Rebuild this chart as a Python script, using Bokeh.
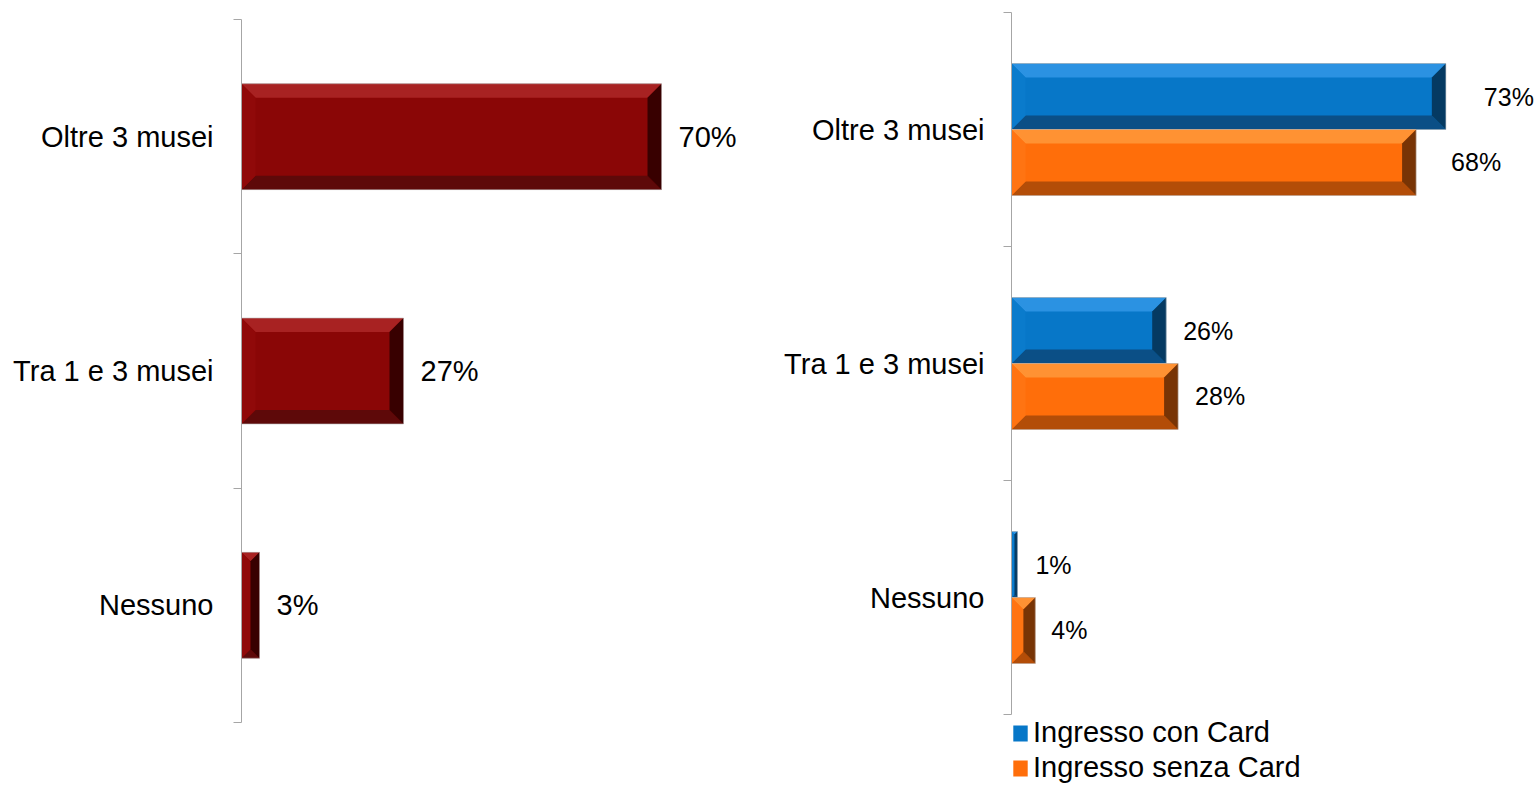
import numpy as np
from bokeh.plotting import figure
from bokeh.layouts import row
from bokeh.models import FixedTicker, Legend, LegendItem, ColumnDataSource
from bokeh.core.properties import value
from bokeh.embed import file_html
from bokeh.resources import INLINE

# ---------------- data ----------------
categories = ["Oltre 3 musei", "Tra 1 e 3 musei", "Nessuno"]
totale = [70, 27, 3]
con_card = [73, 26, 1]
senza_card = [68, 28, 4]
series_names = ["Ingresso con Card", "Ingresso senza Card"]

# ---------------- style ----------------
FONT = "Liberation Sans"
AXIS_GRAY = "#a6a6a6"
RED = dict(base="#8a0606", top="#a82222", bottom="#5e0909", left="#900909", right="#380000")
BLUE = dict(base="#0777c8", top="#2b92e2", bottom="#0b4f86", left="#0a7bcc", right="#053a62")
ORANGE = dict(base="#ff6e0a", top="#ff9233", bottom="#b34d08", left="#ff7412", right="#783405")
BEVEL_PX = 14
left_label_gap = [17, 17, 17]
con_label_gap = [38, 17, 18]
senza_label_gap = [35, 17, 16]

n = len(categories)
y_centers = np.array([n - i - 0.5 for i in range(n)])
labels_map = {float(y): c for y, c in zip(y_centers, categories)}

FIG_H = 785
FRAME_TOP = 12          # both frames share the same vertical extent
FRAME_H = FIG_H - FRAME_TOP


def bevel_bars(p, vals, yc, h, px_x, px_y, pal):
    vals = np.asarray(vals, float)
    x0 = np.zeros_like(vals)
    x1 = vals
    y0 = yc - h / 2
    y1 = yc + h / 2
    b = np.minimum(BEVEL_PX, np.minimum(vals * px_x / 2, h * px_y / 2))
    bx = b / px_x
    by = b / px_y
    main = p.quad(left=x0, right=x1, bottom=y0, top=y1,
                  fill_color=pal["base"], line_color=None)
    polys = {
        "top": [[[a, c, c - dx, a + dx], [t, t, t - dy, t - dy]]
                for a, c, t, dx, dy in zip(x0, x1, y1, bx, by)],
        "bottom": [[[a, c, c - dx, a + dx], [bb, bb, bb + dy, bb + dy]]
                   for a, c, bb, dx, dy in zip(x0, x1, y0, bx, by)],
        "left": [[[a, a, a + dx, a + dx], [bb, t, t - dy, bb + dy]]
                 for a, bb, t, dx, dy in zip(x0, y0, y1, bx, by)],
        "right": [[[c, c, c - dx, c - dx], [bb, t, t - dy, bb + dy]]
                  for c, bb, t, dx, dy in zip(x1, y0, y1, bx, by)],
    }
    for side, pl in polys.items():
        p.patches(xs=[q[0] for q in pl], ys=[q[1] for q in pl],
                  fill_color=pal[side], line_color=None)
    p.quad(left=x0, right=x1, bottom=y0, top=y1, fill_color=None,
           line_color="#b5b5b5", line_alpha=0.6, line_width=1)
    return main


def style_axis(p, standoff):
    ax = p.yaxis[0]
    ax.ticker = FixedTicker(ticks=list(y_centers), minor_ticks=list(range(n + 1)))
    ax.major_label_overrides = labels_map
    ax.major_tick_line_color = None
    ax.major_tick_out = 0
    ax.major_tick_in = 0
    ax.minor_tick_line_color = AXIS_GRAY
    ax.minor_tick_out = 8
    ax.minor_tick_in = 0
    ax.axis_line_color = AXIS_GRAY
    ax.major_label_text_font = FONT
    ax.major_label_text_font_size = "29px"
    ax.major_label_text_color = "black"
    ax.major_label_standoff = standoff
    ax.bounds = (0, n)


# ---------------- left chart ----------------
L_PXX = 6.0
L_FRAME_W = 520
L_AX_TOP, L_AX_BOT = 19, 722       # pixel rows of the category band edges
L_PXY = (L_AX_BOT - L_AX_TOP) / n
L_y_end = n + (L_AX_TOP - FRAME_TOP) / L_PXY
L_y_start = -(FIG_H - L_AX_BOT) / L_PXY
pL = figure(width=770, height=FIG_H, x_range=(0, L_FRAME_W / L_PXX),
            y_range=(L_y_start, L_y_end),
            x_axis_location=None, toolbar_location=None, output_backend="svg",
            min_border_left=241, min_border_right=770 - 241 - L_FRAME_W,
            min_border_top=FRAME_TOP, min_border_bottom=0)
pL.outline_line_color = None
pL.grid.visible = False
style_axis(pL, 20)
bevel_bars(pL, totale, y_centers, 0.452, L_PXX, L_PXY, RED)
srcL = ColumnDataSource(dict(x=totale, y=y_centers, t=[f"{v}%" for v in totale],
                             dx=left_label_gap))
pL.text(x="x", y="y", text="t", x_offset="dx", source=srcL, text_font=value(FONT),
        text_font_size="29px", text_baseline="middle", text_align="left",
        text_color="black")

# ---------------- right chart ----------------
R_PXX = 5.95
R_FRAME_W = 525
R_PXY = 234.0
R_y_end = n
R_y_start = n - FRAME_H / R_PXY
pR = figure(width=767, height=FIG_H, x_range=(0, R_FRAME_W / R_PXX),
            y_range=(R_y_start, R_y_end),
            x_axis_location=None, toolbar_location=None, output_backend="svg",
            min_border_left=241, min_border_right=767 - 241 - R_FRAME_W,
            min_border_top=FRAME_TOP, min_border_bottom=0)
pR.outline_line_color = None
pR.grid.visible = False
style_axis(pR, 19)
bh = 0.282
r_con = bevel_bars(pR, con_card, y_centers + bh / 2, bh, R_PXX, R_PXY, BLUE)
r_senza = bevel_bars(pR, senza_card, y_centers - bh / 2, bh, R_PXX, R_PXY, ORANGE)
for vals, yy, gaps in [(con_card, y_centers + bh / 2, con_label_gap),
                       (senza_card, y_centers - bh / 2, senza_label_gap)]:
    src = ColumnDataSource(dict(x=vals, y=yy, t=[f"{v}%" for v in vals], dx=gaps))
    pR.text(x="x", y="y", text="t", x_offset="dx", source=src, text_font=value(FONT),
            text_font_size="25px", text_baseline="middle", text_align="left",
            text_color="black")

legend = Legend(items=[LegendItem(label=series_names[0], renderers=[r_con]),
                       LegendItem(label=series_names[1], renderers=[r_senza])],
                location=(0, 1), orientation="vertical",
                glyph_width=18, glyph_height=20, label_standoff=4,
                label_text_font=FONT, label_text_font_size="29px",
                label_text_color="black",
                label_height=20, spacing=2, padding=0, margin=0,
                border_line_color=None, background_fill_alpha=0)
pR.add_layout(legend)

layout = row(pL, pR)
open("out.html", "w").write(file_html(layout, INLINE))
